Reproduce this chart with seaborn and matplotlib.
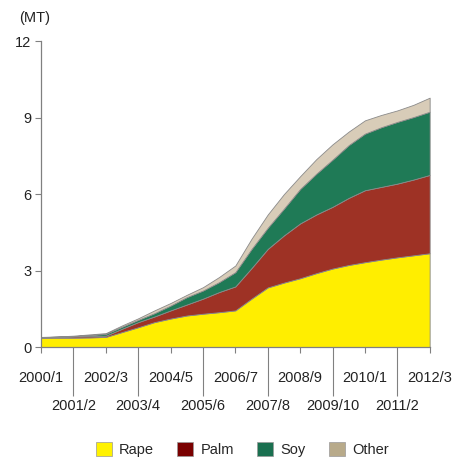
import matplotlib
matplotlib.use("Agg")
import matplotlib.pyplot as plt
from matplotlib.patches import Patch
import seaborn as sns
import numpy as np

# category labels (one per year step) and half-step positions for the data
periods = ["2000/1", "2001/2", "2002/3", "2003/4", "2004/5", "2005/6", "2006/7",
           "2007/8", "2008/9", "2009/10", "2010/1", "2011/2", "2012/3"]
steps = [0, 0.5, 1, 1.5, 2, 2.5, 3, 3.5, 4, 4.5, 5, 5.5, 6, 6.5, 7, 7.5, 8,
         8.5, 9, 9.5, 10, 10.5, 11, 11.5, 12]

rape = [0.37, 0.37, 0.37, 0.38, 0.40, 0.59, 0.78, 0.98, 1.12, 1.24, 1.31, 1.37, 1.44,
        1.90, 2.34, 2.53, 2.70, 2.90, 3.08, 3.22, 3.33, 3.43, 3.52, 3.60, 3.68]
palm = [0.01, 0.03, 0.05, 0.05, 0.05, 0.13, 0.20, 0.22, 0.32, 0.43, 0.59, 0.79, 0.94,
        1.20, 1.51, 1.85, 2.15, 2.30, 2.42, 2.63, 2.82, 2.85, 2.89, 2.97, 3.07]
soy = [0.01, 0.01, 0.01, 0.04, 0.07, 0.08, 0.09, 0.13, 0.19, 0.29, 0.32, 0.39, 0.56,
       0.75, 0.83, 1.05, 1.35, 1.60, 1.85, 2.07, 2.22, 2.34, 2.42, 2.45, 2.48]
other = [0.01, 0.01, 0.02, 0.03, 0.03, 0.05, 0.06, 0.11, 0.10, 0.09, 0.13, 0.20, 0.26,
         0.40, 0.52, 0.57, 0.50, 0.57, 0.60, 0.53, 0.52, 0.48, 0.45, 0.48, 0.55]

series_names = ["Rape", "Palm", "Soy", "Other"]
area_colors = ["#FFEE00", "#9E3225", "#1F7A56", "#D8CCB8"]
legend_colors = ["#FFF200", "#7A0000", "#1A7050", "#B8AA8A"]

sns.set_style("ticks")
plt.rcParams["font.family"] = ["Liberation Sans", "DejaVu Sans"]

fig = plt.figure(figsize=(4.53, 4.61), dpi=100)
ax = fig.add_axes([0.0905, 0.247, 0.858, 0.664])

ax.stackplot(steps, rape, palm, soy, other, colors=area_colors,
             edgecolor="#8A8A8A", linewidth=0.6)

# right end edge of the areas
tops = np.cumsum([rape, palm, soy, other], axis=0)
ax.plot([12, 12], [0, tops[-1][-1]], color="#8A8A8A", lw=0.8)

ax.set_xlim(0, 12)
ax.set_ylim(0, 12)
ax.set_yticks([0, 3, 6, 9, 12])
ax.set_yticklabels(["0", "3", "6", "9", "12"], fontsize=10.5, color="#222222")

# even periods on the first row, odd periods below with long separator ticks
even_pos = list(range(0, 13, 2))
odd_pos = list(range(1, 13, 2))
ax.set_xticks(even_pos)
ax.set_xticklabels([periods[i] for i in even_pos], fontsize=10.5, color="#222222")
ax.set_xticks(odd_pos, minor=True)
ax.set_xticklabels([periods[i] for i in odd_pos], minor=True, fontsize=10.5,
                   color="#222222")
ax.tick_params(axis="x", which="major", length=4, width=0.8, color="#808080", pad=13)
ax.tick_params(axis="x", which="minor", length=35, width=0.8, color="#808080", pad=2)
ax.tick_params(axis="y", length=4, width=0.8, color="#808080", pad=3)

sns.despine(ax=ax)
for side in ["left", "bottom"]:
    ax.spines[side].set_color("#808080")
    ax.spines[side].set_linewidth(0.9)

fig.text(0.042, 0.962, "(MT)", fontsize=10.5, color="#222222", va="center")

handles = [Patch(facecolor=c, edgecolor="#999999", linewidth=0.5) for c in legend_colors]
fig.legend(handles, series_names, loc="center", bbox_to_anchor=(0.535, 0.025), ncol=4,
           frameon=False, fontsize=10.5, handlelength=1.1, handleheight=1.1,
           handletextpad=0.5, columnspacing=1.6)

fig.savefig("out.png", dpi=100)
